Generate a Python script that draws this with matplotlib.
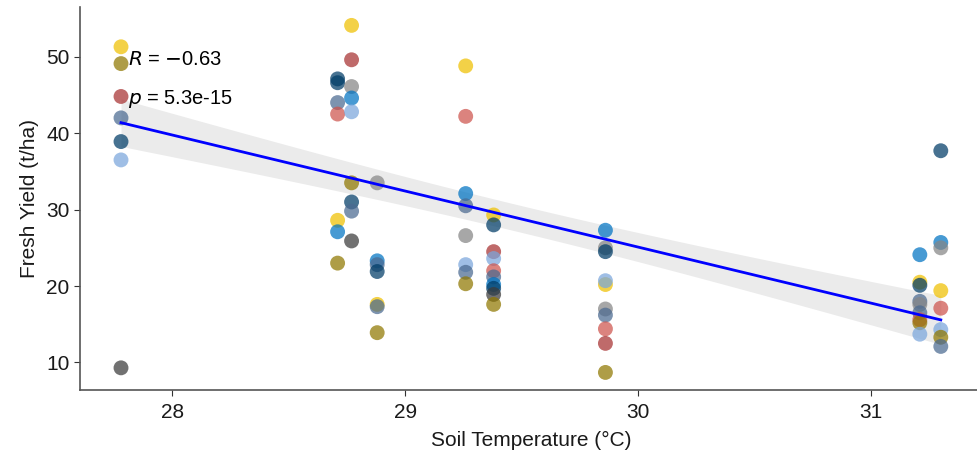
import numpy as np
import matplotlib
matplotlib.use('Agg')
import matplotlib.pyplot as plt

plt.rcParams['font.family'] = ['Liberation Sans', 'DejaVu Sans']

# JCO palette
pal = {
    'blue': '#0073C2', 'yellow': '#EFC000', 'grey': '#868686', 'salmon': '#CD534C',
    'lblue': '#7AA6DC', 'navy': '#003C67', 'olive': '#8F7700', 'dark': '#3B3B3B',
    'red': '#A73030', 'slate': '#4A6990',
}

# yields at each soil temperature
t_2778 = [51.3, 49.1, 44.8, 42.0, 38.9, 36.5, 9.3]
c_2778 = ['yellow', 'olive', 'red', 'slate', 'navy', 'lblue', 'dark']
t_2871 = [47.1, 46.6, 44.0, 42.5, 28.6, 27.1, 23.0]
c_2871 = ['navy', 'navy', 'slate', 'salmon', 'yellow', 'blue', 'olive']
t_2877 = [54.1, 49.6, 46.1, 44.6, 42.8, 33.5, 31.0, 29.8, 25.9]
c_2877 = ['yellow', 'red', 'grey', 'blue', 'lblue', 'olive', 'navy', 'slate', 'dark']
t_2888 = [33.5, 23.3, 22.8, 21.9, 17.6, 17.3, 13.9]
c_2888 = ['grey', 'blue', 'slate', 'navy', 'yellow', 'slate', 'olive']
t_2926 = [48.8, 42.2, 32.1, 30.5, 26.6, 22.8, 21.8, 20.3]
c_2926 = ['yellow', 'salmon', 'blue', 'slate', 'grey', 'lblue', 'slate', 'olive']
t_2938 = [29.3, 28.0, 24.5, 23.6, 22.0, 21.2, 20.2, 19.7, 18.9, 17.6]
c_2938 = ['yellow', 'navy', 'red', 'lblue', 'salmon', 'slate', 'blue', 'navy', 'dark', 'olive']
t_2986 = [27.3, 25.0, 24.5, 20.2, 20.7, 17.0, 16.2, 14.4, 12.5, 8.7]
c_2986 = ['blue', 'grey', 'navy', 'yellow', 'lblue', 'grey', 'slate', 'salmon', 'red', 'olive']
t_3121 = [24.1, 20.5, 20.1, 18.0, 17.6, 16.5, 15.6, 15.2, 13.7]
c_3121 = ['blue', 'yellow', 'navy', 'slate', 'grey', 'slate', 'salmon', 'olive', 'lblue']
t_3130 = [37.7, 25.7, 25.0, 19.4, 17.1, 14.3, 13.3, 12.1]
c_3130 = ['navy', 'blue', 'grey', 'yellow', 'salmon', 'lblue', 'olive', 'slate']

temps = [27.78, 28.71, 28.77, 28.88, 29.26, 29.38, 29.86, 31.21, 31.30]
yields = [t_2778, t_2871, t_2877, t_2888, t_2926, t_2938, t_2986, t_3121, t_3130]
colours = [c_2778, c_2871, c_2877, c_2888, c_2926, c_2938, c_2986, c_3121, c_3130]

fit_slope = -7.33
fit_intercept = 245.0
ci_centre = 29.5      # x where the 95% band is narrowest
ci_min = 1.75         # half width there
ci_growth = 1.49      # growth of half width per degree away from centre

x = np.concatenate([[t] * len(v) for t, v in zip(temps, yields)])
y = np.concatenate(yields)
cols = [pal[c] for cs in colours for c in cs]

fig = plt.figure(figsize=(9.77, 4.57), dpi=100)
ax = fig.add_axes([0.0819, 0.1466, 0.923, 0.838])

xs = np.linspace(min(temps), max(temps), 100)
ys = fit_intercept + fit_slope * xs
half = np.sqrt(ci_min ** 2 + (ci_growth * (xs - ci_centre)) ** 2)
ax.fill_between(xs, ys - half, ys + half, color='#EBEBEB', lw=0, zorder=1)

ax.scatter(x, y, s=115, c=cols, alpha=0.72, lw=0, zorder=2)
ax.plot(xs, ys, color='#0000FF', lw=2, zorder=3)

ax.text(27.81, 49.6, r'$R$ = $-$0.63', fontsize=14.5, va='center', ha='left', zorder=4)
ax.text(27.81, 44.5, r'$p$ = 5.3e-15', fontsize=14.5, va='center', ha='left', zorder=4)

ax.set_xlim(27.604, 31.476)
ax.set_ylim(6.4, 56.5)
ax.set_xticks([28, 29, 30, 31])
ax.set_yticks([10, 20, 30, 40, 50])
ax.set_xlabel('Soil Temperature (°C)', fontsize=15, color='#1A1A1A', labelpad=7)
ax.set_ylabel('Fresh Yield (t/ha)', fontsize=15, color='#1A1A1A', labelpad=5)
ax.tick_params(labelsize=15, colors='#333333', length=4, labelcolor='#1A1A1A')
ax.tick_params(axis='x', pad=5)
for side in ['top', 'right']:
    ax.spines[side].set_visible(False)
for side in ['left', 'bottom']:
    ax.spines[side].set_color('#555555')
    ax.spines[side].set_linewidth(1.2)

fig.savefig('out.png', dpi=100)
